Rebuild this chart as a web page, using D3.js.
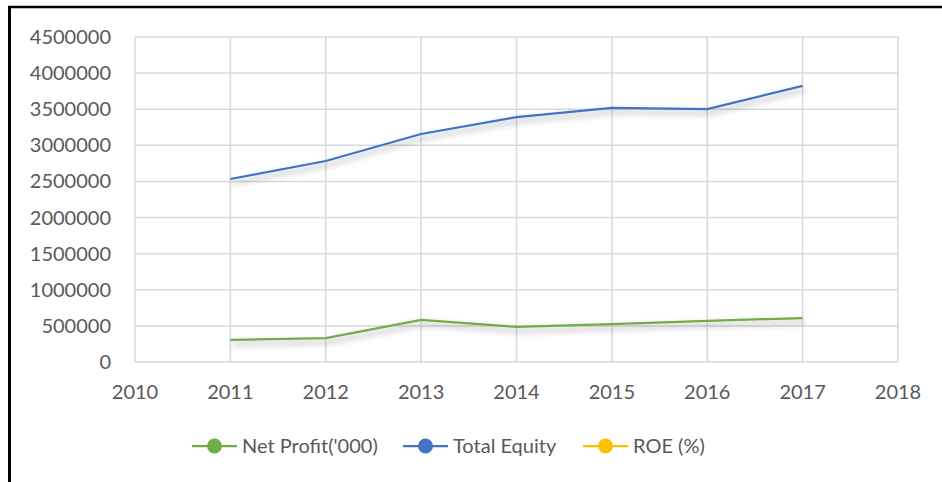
<!DOCTYPE html>
<html lang="en">
<head>
  <meta charset="UTF-8">
  <title>Net Profit, Total Equity and ROE</title>
  <script src="https://d3js.org/d3.v7.min.js"></script>
  <style>
    body { margin: 0; background: #fff; }
    text { font-family: Lato, "Open Sans", sans-serif; fill: #595959; }
    .grid line { stroke: #d9d9d9; stroke-width: 1.5; }
    .tick-label { font-size: 20px; }
    .legend-label { font-size: 20px; }
  </style>
</head>
<body>
  <div id="chart"></div>
  <script>
    // data
    const years = [2011, 2012, 2013, 2014, 2015, 2016, 2017];
    const netProfit = [305000, 332000, 582000, 485000, 526000, 568000, 609000];
    const totalEquity = [2534000, 2783000, 3157000, 3392000, 3517000, 3503000, 3822000];
    const roe = [12.0, 11.9, 18.4, 14.3, 15.0, 16.2, 15.9];
    const xTicks = [2010, 2011, 2012, 2013, 2014, 2015, 2016, 2017, 2018];
    const yTicks = [0, 500000, 1000000, 1500000, 2000000, 2500000, 3000000, 3500000, 4000000, 4500000];

    const series = [
      { name: "Net Profit('000)", values: netProfit, color: "#70ad47" },
      { name: "Total Equity", values: totalEquity, color: "#4472c4" },
      { name: "ROE (%)", values: roe, color: "#ffc000" }
    ];

    const W = 942, H = 482;
    const margin = { top: 37, right: 44, bottom: 120, left: 135 };
    const width = W - margin.left - margin.right;
    const height = H - margin.top - margin.bottom;

    const svg = d3.select("#chart").append("svg")
      .attr("width", W)
      .attr("height", H);

    // drop shadow for the lines
    const defs = svg.append("defs");
    const f = defs.append("filter").attr("id", "shadow")
      .attr("x", "-10%").attr("y", "-50%").attr("width", "120%").attr("height", "300%");
    f.append("feGaussianBlur").attr("in", "SourceAlpha").attr("stdDeviation", 3).attr("result", "b");
    f.append("feOffset").attr("in", "b").attr("dx", 2).attr("dy", 4).attr("result", "o");
    f.append("feFlood").attr("flood-color", "#000").attr("flood-opacity", 0.35).attr("result", "c");
    f.append("feComposite").attr("in", "c").attr("in2", "o").attr("operator", "in").attr("result", "s");
    const m = f.append("feMerge");
    m.append("feMergeNode").attr("in", "s");
    m.append("feMergeNode").attr("in", "SourceGraphic");

    // outer frame (left and top edges show)
    svg.append("line").attr("x1", 9.5).attr("x2", 9.5).attr("y1", 7).attr("y2", H)
      .attr("stroke", "#000").attr("stroke-width", 3);
    svg.append("line").attr("x1", 8).attr("x2", W).attr("y1", 7).attr("y2", 7)
      .attr("stroke", "#000").attr("stroke-width", 2.5);

    const g = svg.append("g").attr("transform", `translate(${margin.left},${margin.top})`);

    const x = d3.scaleLinear().domain([2010, 2018]).range([0, width]);
    const y = d3.scaleLinear().domain([0, 4500000]).range([height, 0]);

    const grid = g.append("g").attr("class", "grid");
    grid.selectAll(".h").data(yTicks).enter().append("line")
      .attr("x1", 0).attr("x2", width)
      .attr("y1", d => y(d)).attr("y2", d => y(d));
    grid.selectAll(".v").data(xTicks).enter().append("line")
      .attr("x1", d => x(d)).attr("x2", d => x(d))
      .attr("y1", 0).attr("y2", height);

    g.selectAll(".ylab").data(yTicks).enter().append("text")
      .attr("class", "tick-label")
      .attr("x", -24)
      .attr("y", d => y(d))
      .attr("dy", "0.35em")
      .attr("text-anchor", "end")
      .text(d => d);

    g.selectAll(".xlab").data(xTicks).enter().append("text")
      .attr("class", "tick-label")
      .attr("x", d => x(d))
      .attr("y", height + 30)
      .attr("dy", "0.35em")
      .attr("text-anchor", "middle")
      .text(d => d);

    const line = d3.line()
      .x((d, i) => x(years[i]))
      .y(d => y(d));

    series.forEach(s => {
      g.append("path")
        .datum(s.values)
        .attr("fill", "none")
        .attr("stroke", s.color)
        .attr("stroke-width", 2.25)
        .attr("filter", "url(#shadow)")
        .attr("d", line);
    });

    // legend
    const legendX = [192, 403, 583];
    const legend = svg.append("g").attr("transform", "translate(0,446)");
    series.forEach((s, i) => {
      const lg = legend.append("g").attr("transform", `translate(${legendX[i]},0)`);
      lg.append("line").attr("x1", 0).attr("x2", 45).attr("y1", 0).attr("y2", 0)
        .attr("stroke", s.color).attr("stroke-width", 2.25);
      lg.append("circle").attr("cx", 22.5).attr("cy", 0).attr("r", 7.5).attr("fill", s.color);
      lg.append("text").attr("class", "legend-label")
        .attr("x", 50).attr("y", 0).attr("dy", "0.35em")
        .text(s.name);
    });
  </script>
</body>
</html>
